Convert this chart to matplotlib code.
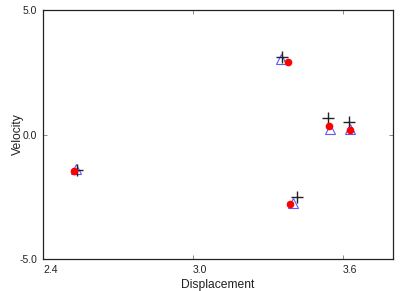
import matplotlib
matplotlib.use("Agg")
import matplotlib.pyplot as plt

plt.rcParams["font.family"] = ["Liberation Sans", "DejaVu Sans"]
plt.rcParams["text.color"] = "#222222"

# three measurement series (displacement, velocity)
plus_x = [2.536, 3.355, 3.540, 3.623, 3.417]
plus_y = [-1.43, 3.12, 0.65, 0.51, -2.50]

tri_x = [2.532, 3.351, 3.548, 3.628, 3.401]
tri_y = [-1.40, 3.05, 0.22, 0.22, -2.75]

dot_x = [2.524, 3.381, 3.545, 3.628, 3.388]
dot_y = [-1.47, 2.92, 0.35, 0.18, -2.80]

x_ticks = [2.4, 3.0, 3.6]
y_ticks = [-5.0, 0.0, 5.0]

fig = plt.figure(figsize=(4.15, 2.91), dpi=100)
ax = fig.add_axes([43 / 415, 32 / 291, 350 / 415, 249 / 291])

ax.plot(tri_x, tri_y, ls="none", marker="^", ms=7, mfc="none", mec="#5a5aff", mew=0.8)
ax.plot(plus_x, plus_y, ls="none", marker="+", ms=9, mec="#222222", mew=1.0)
ax.plot(dot_x, dot_y, ls="none", marker="o", ms=4.5, mfc="red", mec="red")

ax.set_xlim(2.4, 3.8)
ax.set_ylim(-5.0, 5.0)
ax.set_xticks(x_ticks)
ax.set_xticklabels([f"{v:.1f}" for v in x_ticks], ha="left")
ax.set_yticks(y_ticks)
ax.set_yticklabels([f"{v:.1f}" for v in y_ticks])
ax.tick_params(direction="in", length=3, width=0.6, color="#777777",
               labelcolor="#222222", top=True, right=True, labelsize=7.5, pad=4)
for s in ax.spines.values():
    s.set_linewidth(0.9)
    s.set_color("#222222")

ax.set_xlabel("Displacement", fontsize=8.7, labelpad=3, color="#222222")
ax.set_ylabel("Velocity", fontsize=8.7, labelpad=-3, color="#222222")

fig.savefig("out.png", dpi=100)
